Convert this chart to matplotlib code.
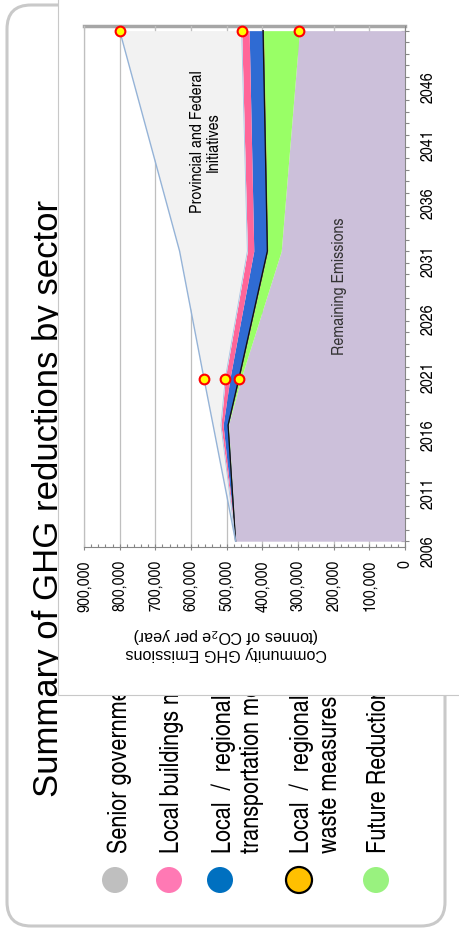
import numpy as np
import matplotlib
matplotlib.use("Agg")
import matplotlib.pyplot as plt
from matplotlib.patches import FancyBboxPatch, Rectangle, Circle
from matplotlib.ticker import MultipleLocator, FixedLocator, FuncFormatter

plt.rcParams['font.family'] = ['Liberation Sans', 'DejaVu Sans']
plt.rcParams['mathtext.fontset'] = 'custom'
plt.rcParams['mathtext.rm'] = 'Liberation Sans'
plt.rcParams['mathtext.it'] = 'Liberation Sans:italic'

NARROW = ['TeX Gyre Heros Cn', 'Liberation Sans']
W, H, DPI = 459, 931, 100

# emissions by layer (tonnes CO2e / year)
years = [2006, 2016, 2020, 2031, 2050]
remaining = [475000, 495000, 460000, 347000, 296000]
future = [0, 1000, 5000, 38000, 101000]
waste = [0, 0, 1000, 1000, 1000]
transport = [0, 14000, 25000, 38000, 39000]
buildings = [0, 6000, 13000, 18000, 21000]
senior = [0, 22000, 59500, 190000, 342000]

year_ticks = list(range(2006, 2047, 5))
emission_ticks = list(range(0, 900001, 100000))

legend_labels = ["Senior government initiatives", "Local buildings measures",
                 "Local  /  regional\ntransportation measures",
                 "Local  /  regional\nwaste measures", "Future Reductions"]
legend_colors = ['#BFBFBF', '#FF79B4', '#0070C0', '#FFC000', '#99F27F']

fig = plt.figure(figsize=(W / DPI, H / DPI), dpi=DPI)
T = fig.dpi_scale_trans


def P(x, y):
    return x / DPI, (H - y) / DPI


# slide frame
x0, y0 = P(7, 926)
frame = FancyBboxPatch((x0, y0), 438 / DPI, 921 / DPI,
                       boxstyle="round,pad=0,rounding_size=0.24",
                       transform=T, fc='white', ec='#C9C9C9', lw=2.2, zorder=1)
fig.add_artist(frame)

# title
tx, ty = P(58, 498)
fig.text(tx, ty, "Summary of GHG reductions by sector", transform=T,
         rotation=90, rotation_mode='anchor', ha='center', va='baseline',
         fontsize=25, zorder=2)

# legend
circle_x = [115, 169, 220, 299, 376]
text_base = [[127], [179], [231, 259], [309, 337], [386]]
for cx, col, lab, bases in zip(circle_x, legend_colors, legend_labels, text_base):
    ec = 'black' if col == '#FFC000' else 'none'
    fig.add_artist(Circle(P(cx, 880), 13 / DPI, transform=T, fc=col, ec=ec,
                          lw=1.6, zorder=2))
    for line, bx in zip(lab.split("\n"), bases):
        lx, ly = P(bx, 853)
        fig.text(lx, ly, line, transform=T, rotation=90, rotation_mode='anchor',
                 ha='left', va='baseline', fontsize=19.0, family=NARROW,
                 zorder=2)

# chart panel
px0, py0 = P(58, 695)
fig.add_artist(Rectangle((px0, py0), 4.5, 7.5, transform=T, fc='white',
                         ec='#C8C8C8', lw=0.8, zorder=5))

# axis title under the emissions axis
for txt, yy in [("Community GHG Emissions", 653), ("(tonnes of CO$_2$e per year)", 635)]:
    lx, ly = P(226, yy)
    fig.text(lx, ly, txt, transform=T, rotation=180, rotation_mode='anchor',
             ha='center', va='center', fontsize=11.6, zorder=6)

ax = fig.add_axes([84 / W, 1 - 547 / H, (405 - 84) / W, (547 - 26) / H], zorder=10)
ax.set_facecolor('white')

yrs = np.array(years, float)
layers = np.array([remaining, future, waste, transport, buildings, senior], float)
bounds = np.vstack([np.zeros(len(yrs)), np.cumsum(layers, axis=0)])
fills = ['#CCC0DA', '#99FF66', '#FFC000', '#2F6BD3', '#FF6699', '#F2F2F2']
for i, c in enumerate(fills):
    ax.fill_betweenx(yrs, bounds[i], bounds[i + 1], color=c, lw=0, zorder=2)
ax.plot(bounds[2], yrs, color='#555555', lw=0.7, zorder=3)
ax.plot(bounds[3], yrs, color='#111111', lw=0.9, zorder=3)
ax.plot(bounds[5], yrs, color='#A9C4E4', lw=0.6, zorder=3)
ax.plot(bounds[6], yrs, color='#95B3D7', lw=1.0, zorder=3)

# target markers
i20, i50 = years.index(2020), years.index(2050)
mx = [bounds[6][i20], bounds[5][i20], bounds[3][i20],
      bounds[6][i50], bounds[5][i50], bounds[1][i50]]
my = [2020, 2020, 2020, 2050, 2050, 2050]
ax.plot(mx, my, 'o', ms=7, mfc='#FFFF00', mec='#FF0000', mew=1.5,
        clip_on=False, zorder=8)

ax.text(560000, 2040.4, "Provincial and Federal\nInitiatives", rotation=90,
        ha='center', va='center', multialignment='center', fontsize=12.5,
        linespacing=1.0, family=NARROW)
ax.text(185000, 2028.0, "Remaining Emissions", rotation=90, ha='center',
        va='center', fontsize=12.5, color='#333333', family=NARROW)

ax.set_xlim(900000, 0)
ax.set_ylim(2005.5, 2050.4)
ax.set_axisbelow(True)
ax.xaxis.set_major_locator(FixedLocator(emission_ticks))
ax.xaxis.set_minor_locator(MultipleLocator(20000))
ax.xaxis.set_major_formatter(FuncFormatter(lambda v, p: f"{int(round(v)):,}"))
ax.grid(axis='x', which='major', color='#BFBFBF', lw=0.9)
ax.tick_params(axis='x', which='major', direction='inout', length=5, width=0.8,
               color='#868686', pad=7, labelsize=12.5, labelrotation=90)
ax.tick_params(axis='x', which='minor', direction='in', length=2.2, width=0.8,
               color='#868686')

ax.yaxis.tick_right()
ax.yaxis.set_major_locator(FixedLocator(year_ticks))
ax.yaxis.set_minor_locator(MultipleLocator(1))
ax.yaxis.set_major_formatter(FuncFormatter(lambda v, p: f"{int(round(v))}"))
ax.tick_params(axis='y', which='both', direction='inout', length=6, width=0.8,
               color='#868686', pad=8, labelsize=12.5, labelrotation=90)
for lbl in ax.get_xticklabels() + ax.get_yticklabels():
    lbl.set_family(NARROW)

ax.spines['left'].set_color('#BFBFBF')
ax.spines['left'].set_linewidth(0.9)
for s in ('bottom', 'right'):
    ax.spines[s].set_color('#868686')
    ax.spines[s].set_linewidth(0.8)
ax.spines['top'].set_visible(False)

sec = ax.secondary_xaxis('top')
sec.set_xticks(emission_ticks)
sec.tick_params(direction='in', length=3, color='#A6A6A6', labeltop=False)
sec.spines['top'].set_color('#A6A6A6')
sec.spines['top'].set_linewidth(2.5)

fig.savefig("out.png", dpi=DPI)
